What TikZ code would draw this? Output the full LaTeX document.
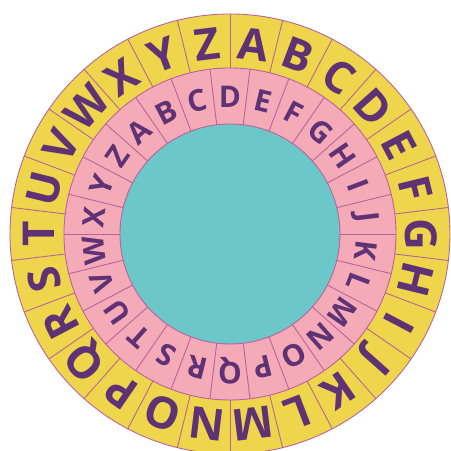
\documentclass[tikz,border=0pt]{standalone}
\usepackage{fontspec}
\setmainfont{Open Sans}
\definecolor{wheelyellow}{HTML}{EFD54B}
\definecolor{wheelpink}{HTML}{F5AAB8}
\definecolor{wheelteal}{HTML}{6CC8C8}
\definecolor{rim}{HTML}{B8629C}
\definecolor{ink}{HTML}{5E3275}
\begin{document}
\begin{tikzpicture}[
  every node/.style={inner sep=0pt, text=ink},
  outerletter/.style={font=\fontsize{25}{25}\selectfont\bfseries},
  innerletter/.style={font=\fontsize{17}{17}\selectfont\bfseries},
  ring/.style={draw=rim, line width=0.5pt},
  spoke/.style={draw=rim, line width=0.5pt}
]
  \useasboundingbox (-4.60,-4.34) rectangle (4.42,4.68);
  \clip (-4.60,-4.34) rectangle (4.42,4.68);
  % outer wheel
  \filldraw[ring, fill=wheelyellow] (0,0) circle (4.40);
  \foreach \k in {0,...,25}
    \draw[spoke] ({90+\k*360/26}:3.32) -- ({90+\k*360/26}:4.40);
  % inner wheel
  \filldraw[ring, fill=wheelpink] (0,0) circle (3.32);
  \foreach \k in {0,...,25}
    \draw[spoke] ({\k*360/26}:2.20) -- ({\k*360/26}:3.32);
  \filldraw[ring, fill=wheelteal] (0,0) circle (2.20);
  % letters
  \foreach \l [count=\i from 0] in {A,B,C,D,E,F,G,H,I,J,K,L,M,N,O,P,Q,R,S,T,U,V,W,X,Y,Z}
    \node[outerletter, rotate={83.077-\i*360/26-90}] (out\l) at ({83.077-\i*360/26}:3.82) {\l};
  \foreach \l [count=\i from 0] in {D,E,F,G,H,I,J,K,L,M,N,O,P,Q,R,S,T,U,V,W,X,Y,Z,A,B,C}
    \node[innerletter, rotate={90-\i*360/26-90}] (in\l) at ({90-\i*360/26}:2.74) {\l};
\end{tikzpicture}
\end{document}
